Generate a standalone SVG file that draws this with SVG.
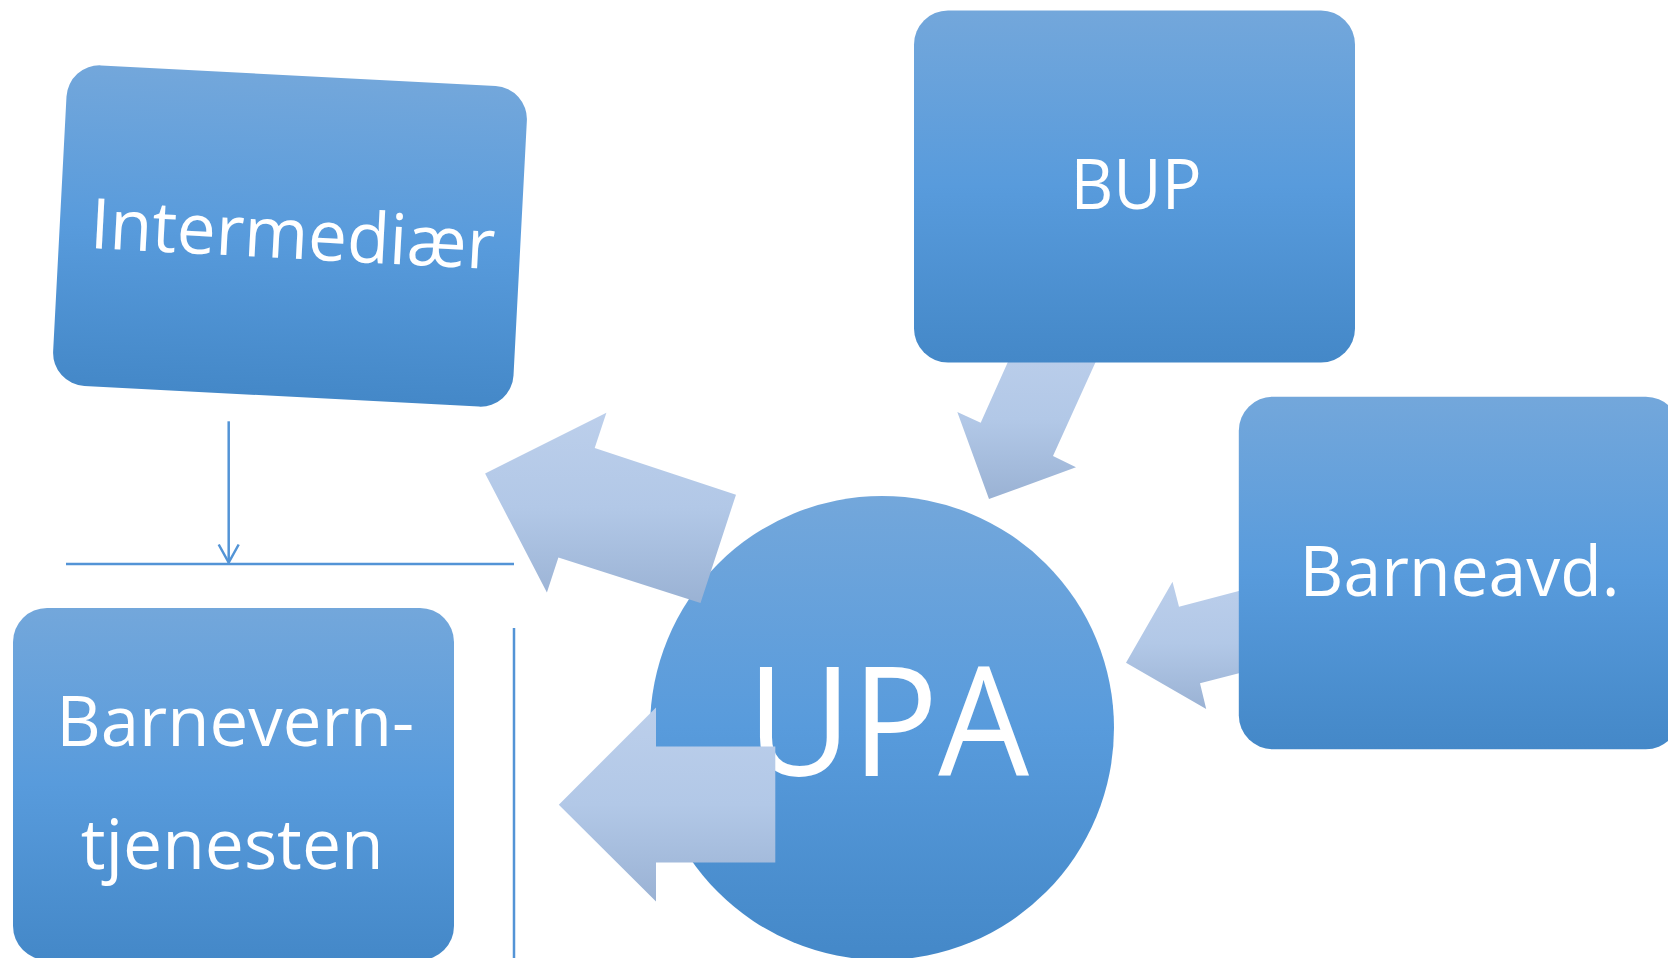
<svg xmlns="http://www.w3.org/2000/svg" width="1668" height="958" viewBox="0 0 1668 958">
  <defs>
    <linearGradient id="boxFill" x1="0" y1="0" x2="0" y2="1">
      <stop offset="0" stop-color="#73a7db"/>
      <stop offset="0.5" stop-color="#589bdc"/>
      <stop offset="1" stop-color="#4488c8"/>
    </linearGradient>
    <linearGradient id="arrowFill" x1="0" y1="0" x2="0" y2="1">
      <stop offset="0" stop-color="#bccfeb"/>
      <stop offset="0.5" stop-color="#b2c8e7"/>
      <stop offset="1" stop-color="#9ab2d4"/>
    </linearGradient>
    <marker id="openHead" markerUnits="userSpaceOnUse" viewBox="-22 -13 24 26" refX="0" refY="0" markerWidth="24" markerHeight="26" orient="auto">
      <path d="M-18,-10 L0,0 L-18,10" fill="none" stroke="#5394d6" stroke-width="2.5"/>
    </marker>
    <style>
      .box { fill: url(#boxFill); }
      .arrow { fill: url(#arrowFill); }
      .line { stroke: #5394d6; stroke-width: 2.5; fill: none; }
      .label { fill: #ffffff; font-family: "Open Sans", "Noto Sans", "Liberation Sans", sans-serif; font-size: 70px; text-anchor: middle; }
      .big { font-size: 152px; }
    </style>
  </defs>

  <rect width="1668" height="958" fill="#ffffff"/>

  <!-- central circle -->
  <g id="node-upa">
    <circle class="box" cx="882" cy="728" r="232"/>
    <text class="label big" x="888" y="776" textLength="282" lengthAdjust="spacingAndGlyphs">UPA</text>
  </g>

  <!-- connectors: block arrows and thin lines -->
  <g id="connectors">
    <polygon class="arrow" points="1017.7,340 1105.6,340 1053,456 1076,467.3 989,499 957.3,412 980.7,422.7"/>
    <polygon class="arrow" points="1126,662.7 1172.5,581.7 1179,606.7 1290,577.6 1290,660.1 1200,683.3 1206.2,709"/>
    <polygon class="arrow" points="485.1,473.4 606.4,412.8 594.7,447.9 736,494.7 700.5,602.9 558.4,557.6 546.9,592.6"/>
    <polygon class="arrow" points="558.8,804.7 656,707.5 656,746.4 775.3,746.4 775.3,862.5 656,862.5 656,901.4"/>
    <line class="line" x1="228.7" y1="421.3" x2="228.7" y2="562.5" marker-end="url(#openHead)"/>
    <line class="line" x1="66" y1="564" x2="514" y2="564"/>
    <line class="line" x1="514" y1="628" x2="514" y2="958"/>
  </g>

  <g id="node-intermediaer" transform="translate(290,236) rotate(3)">
    <rect class="box" x="-230.5" y="-160.5" width="461" height="321" rx="33"/>
    <text class="label" x="2.7" y="22.5" textLength="405" lengthAdjust="spacingAndGlyphs">Intermediær</text>
  </g>

  <g id="node-bup">
    <rect class="box" x="914" y="10.5" width="441" height="352" rx="34"/>
    <text class="label" x="1136" y="209.3" textLength="131" lengthAdjust="spacingAndGlyphs">BUP</text>
  </g>

  <g id="node-barneavd">
    <rect class="box" x="1238.8" y="396.7" width="441" height="352.6" rx="34"/>
    <text class="label" x="1459.6" y="596" textLength="320" lengthAdjust="spacingAndGlyphs">Barneavd.</text>
  </g>

  <g id="node-barnevern">
    <rect class="box" x="13" y="608" width="441" height="352" rx="34"/>
    <text class="label" x="235.2" y="746.4" textLength="358" lengthAdjust="spacingAndGlyphs">Barnevern-</text>
    <text class="label" x="232.2" y="869" textLength="303" lengthAdjust="spacingAndGlyphs">tjenesten</text>
  </g>
</svg>
